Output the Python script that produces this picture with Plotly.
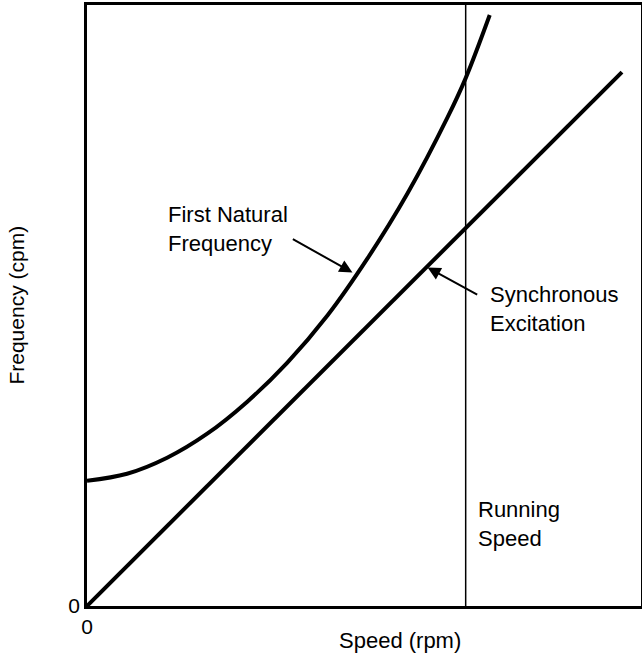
import plotly.graph_objects as go

# Data (arbitrary units)
speed_sync = [0, 534]
freq_sync = [0, 533]

speed_nat = [0, 40, 80, 120, 160, 200, 240, 280, 320, 360, 378, 402]
freq_nat = [125, 132, 148, 172, 204, 243, 290, 347, 412, 488, 527, 590]

running_speed = 378
x_range = [0, 553]
y_range = [0, 600]

FONT = "Liberation Sans, Arial, sans-serif"
fs = 22

fig = go.Figure()
fig.add_trace(go.Scatter(x=speed_nat, y=freq_nat, mode="lines",
                         line=dict(color="black", width=4, shape="spline", smoothing=1),
                         hoverinfo="skip", showlegend=False))
fig.add_trace(go.Scatter(x=speed_sync, y=freq_sync, mode="lines",
                         line=dict(color="black", width=4),
                         hoverinfo="skip", showlegend=False))

fig.add_shape(type="line", x0=running_speed, x1=running_speed, y0=0, y1=1, yref="paper",
              line=dict(color="black", width=1.5))

annos = [
    dict(x=79, y=0.627, text="First Natural<br>Frequency"),
    dict(x=400, y=0.494, text="Synchronous<br>Excitation"),
    dict(x=388, y=0.136, text="Running<br>Speed"),
]
for a in annos:
    fig.add_annotation(xref="x", yref="paper", showarrow=False, xanchor="left", yanchor="middle",
                       align="left", font=dict(family=FONT, size=fs, color="black"), **a)

# arrows
fig.add_annotation(x=265, y=333, ax=204, ay=367, xref="x", yref="y", axref="x", ayref="y",
                   text="", showarrow=True, arrowhead=2, arrowsize=1.3, arrowwidth=2, arrowcolor="black")
fig.add_annotation(x=340, y=338, ax=391, ay=310, xref="x", yref="y", axref="x", ayref="y",
                   text="", showarrow=True, arrowhead=2, arrowsize=1.3, arrowwidth=2, arrowcolor="black")

# axis titles
fig.add_annotation(xref="x", yref="paper", x=312, y=-0.058, text="Speed (rpm)",
                   showarrow=False, xanchor="center", yanchor="middle",
                   font=dict(family=FONT, size=fs, color="black"))
fig.add_annotation(xref="paper", yref="paper", x=-0.128, y=0.5, text="Frequency (cpm)",
                   showarrow=False, textangle=-90, xanchor="center", yanchor="middle",
                   font=dict(family=FONT, size=21, color="black"))

fig.update_xaxes(range=x_range, showgrid=False, zeroline=False, showline=True, mirror=True,
                 linecolor="black", linewidth=2.5, tickvals=[0], ticktext=["0"], ticks="",
                 automargin=False, tickfont=dict(family=FONT, size=21, color="black"))
fig.update_yaxes(range=y_range, showgrid=False, zeroline=False, showline=True, mirror=True,
                 linecolor="black", linewidth=2.5, tickvals=[0], ticktext=["0"], ticks="",
                 automargin=False, tickfont=dict(family=FONT, size=21, color="black"))

fig.update_layout(width=642, height=659, margin=dict(l=87, r=1, t=5, b=53, autoexpand=False),
                  plot_bgcolor="white", paper_bgcolor="white", showlegend=False)

# remove the default 8px page margin so the 642x659 figure fills the window exactly
fig.write_html("out.html", config={"displayModeBar": False},
               post_script="document.body.style.margin='0';document.body.style.overflow='hidden';")
